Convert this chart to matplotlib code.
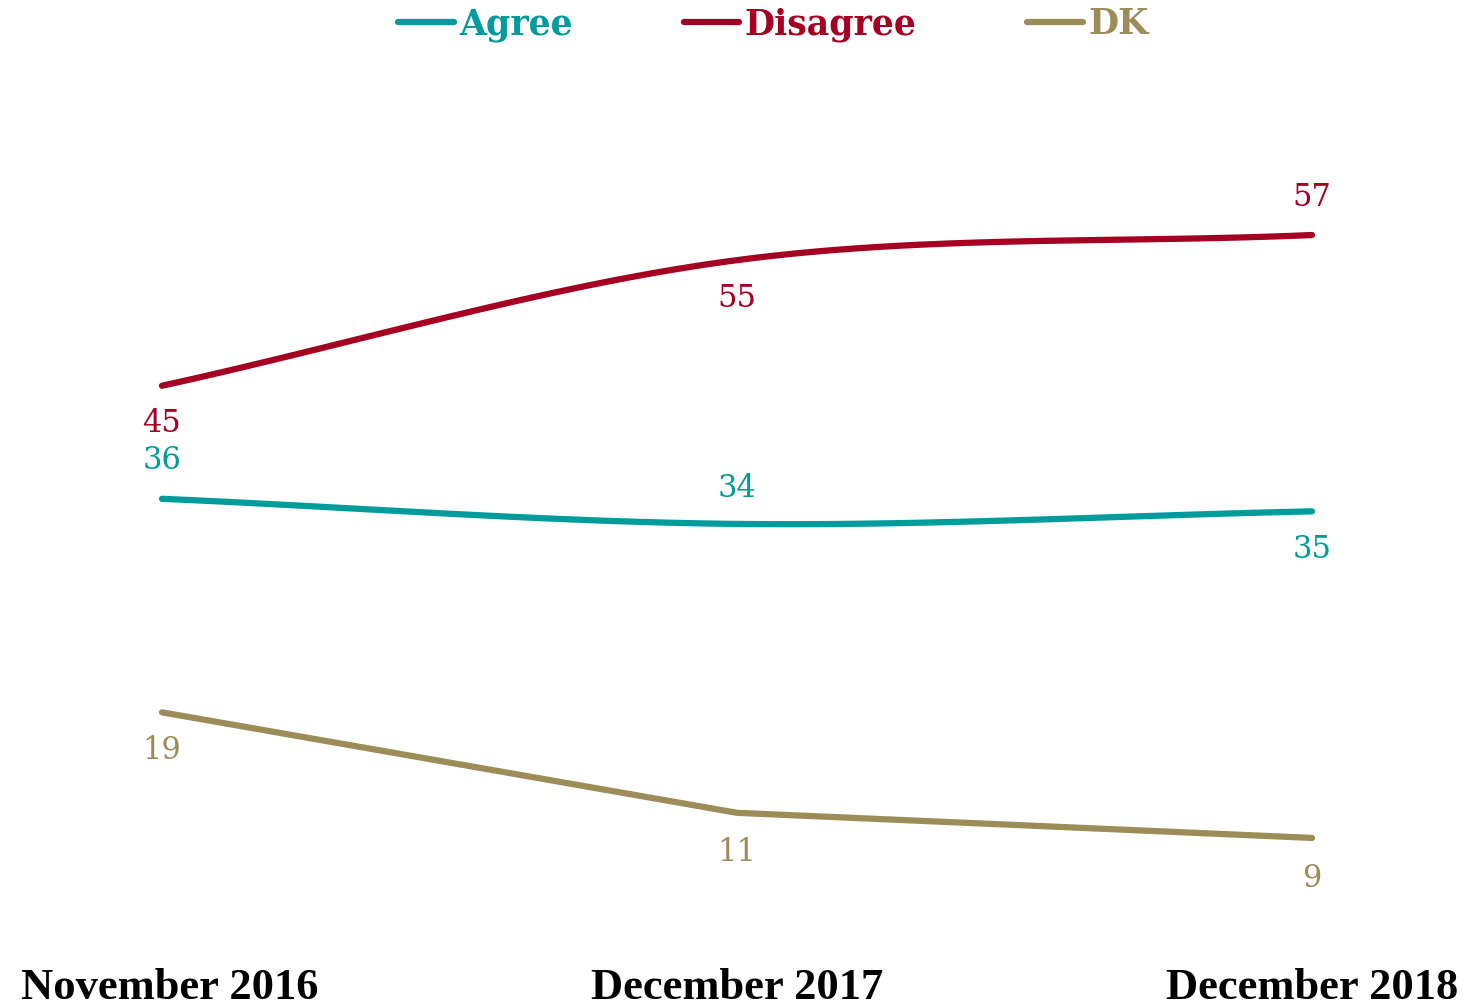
import matplotlib
matplotlib.use("Agg")
import matplotlib.pyplot as plt
import matplotlib.transforms as mtransforms
import numpy as np

periods = ["November 2016", "December 2017", "December 2018"]
agree = [36, 34, 35]
disagree = [45, 55, 57]
dk = [19, 11, 9]

AGREE_C = "#009B9B"
DISAGREE_C = "#A50021"
DK_C = "#9C8C57"


def smooth(xs, ys, n=60):
    """Catmull-Rom style smoothing, roughly what a spreadsheet 'smoothed line' does."""
    xs = np.asarray(xs, float)
    ys = np.asarray(ys, float)
    px = np.concatenate([[2 * xs[0] - xs[1]], xs, [2 * xs[-1] - xs[-2]]])
    py = np.concatenate([[2 * ys[0] - ys[1]], ys, [2 * ys[-1] - ys[-2]]])
    out_x, out_y = [], []
    for i in range(1, len(px) - 2):
        t = np.linspace(0, 1, n)
        for arr, out in ((px, out_x), (py, out_y)):
            p0, p1, p2, p3 = arr[i - 1], arr[i], arr[i + 1], arr[i + 2]
            out.extend(0.5 * ((2 * p1) + (-p0 + p2) * t
                              + (2 * p0 - 5 * p1 + 4 * p2 - p3) * t ** 2
                              + (-p0 + 3 * p1 - 3 * p2 + p3) * t ** 3))
    return np.array(out_x), np.array(out_y)


fig = plt.figure(figsize=(14.76, 10.07), dpi=100)
ax = fig.add_axes([0, 0, 1, 1])
ax.axis("off")

x = np.arange(len(periods))
ax.set_xlim(-0.2817, 2.2852)
ax.set_ylim(-4.46, 75.71)

num_font = dict(family="DejaVu Serif", fontsize=22)

# series: (name, values, colour, smoothed?, label offsets in pixels)
series = [
    ("Agree", agree, AGREE_C, True, [38, 35, -38]),
    ("Disagree", disagree, DISAGREE_C, True, [-38, -38, 38]),
    ("DK", dk, DK_C, False, [-38, -40, -41]),
]

for name, vals, color, is_smooth, offs in series:
    if is_smooth:
        sx, sy = smooth(x, vals)
    else:
        sx, sy = x, vals
    ax.plot(sx, sy, color=color, lw=4.5, solid_capstyle="round",
            solid_joinstyle="round", label=name)
    for xi, v, o in zip(x, vals, offs):
        ax.annotate(str(v), (xi, v), xytext=(0, o), textcoords="offset pixels",
                    ha="center", va="center", color=color, **num_font)

# category labels along the bottom (first one nudged in so it isn't clipped)
trans = mtransforms.blended_transform_factory(ax.transData, fig.transFigure)
shifts = [0.014, 0, 0]
for xi, lab, sh in zip(x, periods, shifts):
    ax.text(xi + sh, 0.008, lab, transform=trans, ha="center", va="baseline",
            family="Liberation Serif", fontweight="bold", fontsize=32,
            color="black")

leg = fig.legend(loc="upper center", bbox_to_anchor=(0.524, 1.024), ncol=3,
                 frameon=False, handlelength=1.6, handletextpad=0.15,
                 columnspacing=3.2, labelcolor="linecolor",
                 prop=dict(family="DejaVu Serif", weight="bold", size=25))

fig.savefig("out.png", dpi=100)
